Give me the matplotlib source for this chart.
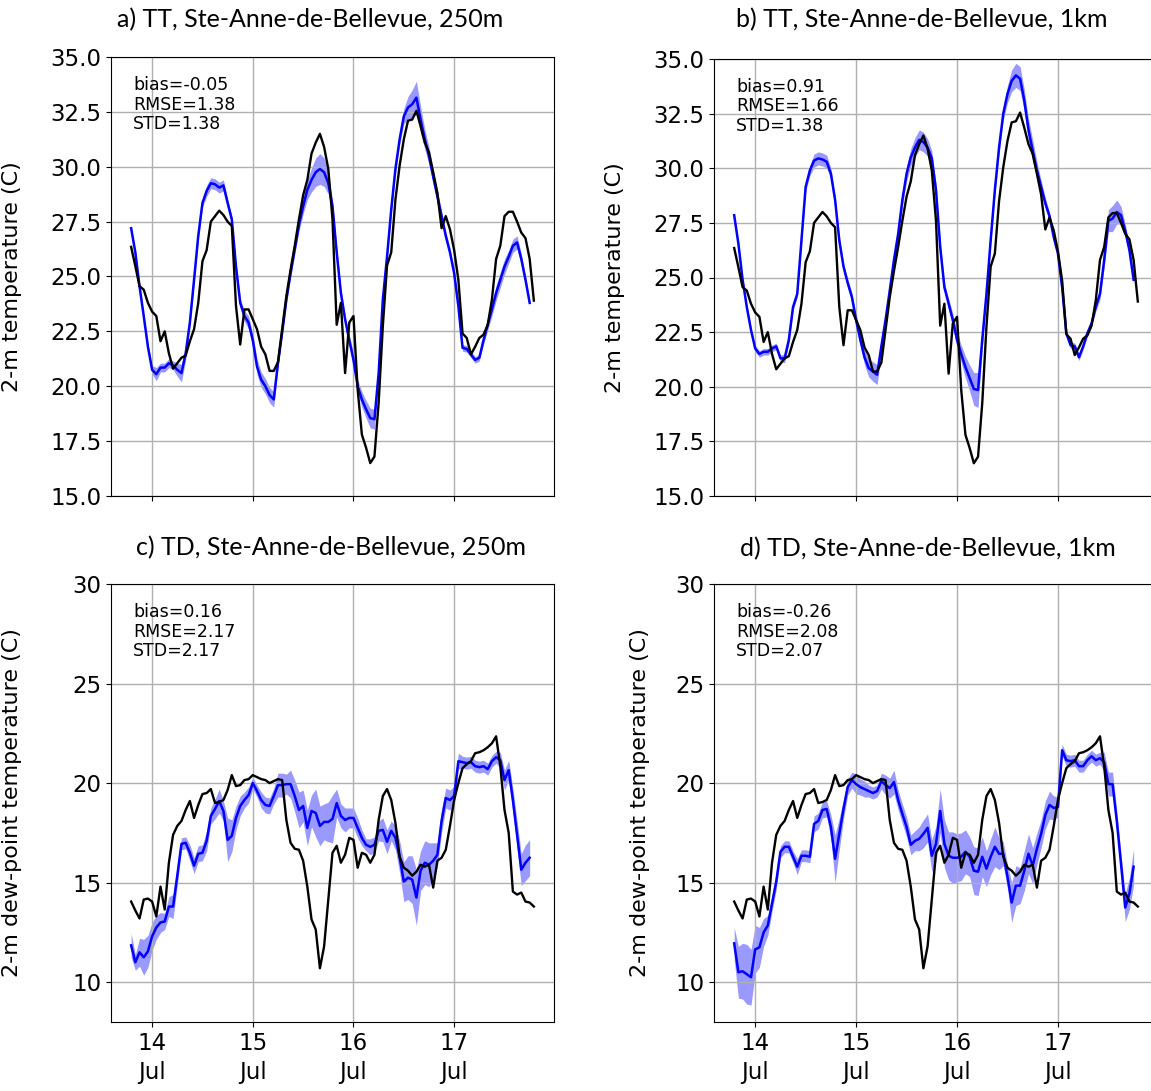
import numpy as np
import pandas as pd
import matplotlib
matplotlib.use("Agg")
import matplotlib.pyplot as plt
import matplotlib.dates as mdates

# hourly times, obs runs one hour longer than the model
obs_time = pd.date_range("2018-07-13 19:00", periods=97, freq="h")
mod_time = obs_time[:96]

# 2-m temperature, observed
tt_obs = [26.35, 25.47, 24.56, 24.4, 23.8, 23.4, 23.2, 22.05, 22.5, 21.5,
          20.8, 21.05, 21.3, 21.4, 22.05, 22.6, 23.8, 25.7, 26.2, 27.5,
          27.75, 28.0, 27.8, 27.5, 27.3, 23.65, 21.9, 23.5, 23.5, 23.05,
          22.6, 21.8, 21.45, 20.7, 20.7, 21.1, 22.6, 24.1, 25.3, 26.4,
          27.6, 28.7, 29.4, 30.6, 31.1, 31.5, 30.9, 29.9, 27.6, 22.8,
          23.8, 20.6, 22.9, 23.2, 19.85, 17.8, 17.2, 16.5, 16.8, 19.25,
          22.75, 25.5, 26.1, 28.5, 30.05, 31.25, 32.1, 32.15, 32.55, 31.85,
          31.1, 30.65, 29.75, 28.8, 27.2, 27.75, 27.15, 26.2, 24.85, 22.4,
          22.2, 21.45, 21.8, 22.2, 22.35, 22.8, 23.95, 25.8, 26.4, 27.75,
          27.95, 27.95, 27.5, 27.0, 26.75, 25.8, 23.9]

# 2-m temperature, ensemble mean and half spread, 250 m
tt_250 = [27.2, 26.1, 24.55, 23.2, 21.8, 20.75, 20.55, 20.85, 20.85, 21.05,
          20.95, 20.75, 20.6, 21.5, 22.9, 24.85, 26.85, 28.35, 28.9, 29.25,
          29.2, 29.05, 29.15, 28.35, 27.6, 25.45, 23.8, 23.2, 22.9, 22.1,
          20.9, 20.3, 20.0, 19.6, 19.4, 21.05, 22.45, 23.95, 25.15, 26.25,
          27.35, 28.2, 28.95, 29.4, 29.75, 29.9, 29.75, 29.25, 28.2, 26.1,
          24.25, 23.05, 22.1, 21.2, 20.0, 19.4, 18.95, 18.55, 18.5, 20.6,
          23.95, 25.9, 28.05, 29.9, 31.25, 32.3, 32.7, 32.85, 33.15, 32.15,
          31.25, 30.5, 29.55, 28.65, 27.75, 26.85, 26.1, 25.15, 23.65, 21.75,
          21.7, 21.45, 21.2, 21.3, 22.1, 22.8, 23.5, 24.25, 24.85, 25.45,
          25.9, 26.4, 26.55, 25.8, 24.85, 23.8]
tt_250_spr = [0.1, 0.1, 0.1, 0.1, 0.15, 0.2, 0.3, 0.2, 0.2, 0.2,
              0.2, 0.3, 0.4, 0.3, 0.15, 0.15, 0.15, 0.2, 0.25, 0.25,
              0.25, 0.25, 0.25, 0.2, 0.15, 0.15, 0.2, 0.25, 0.3, 0.3,
              0.35, 0.35, 0.35, 0.35, 0.35, 0.2, 0.15, 0.2, 0.2, 0.25,
              0.3, 0.35, 0.45, 0.55, 0.65, 0.7, 0.65, 0.5, 0.3, 0.2,
              0.2, 0.2, 0.25, 0.3, 0.3, 0.35, 0.4, 0.45, 0.45, 0.3,
              0.15, 0.15, 0.15, 0.2, 0.25, 0.35, 0.5, 0.65, 0.75, 0.6,
              0.45, 0.4, 0.3, 0.3, 0.25, 0.2, 0.2, 0.15, 0.15, 0.15,
              0.15, 0.15, 0.15, 0.15, 0.2, 0.25, 0.3, 0.35, 0.35, 0.35,
              0.3, 0.3, 0.3, 0.25, 0.2, 0.15]

# 2-m temperature, ensemble mean and half spread, 1 km
tt_1km = [27.85, 26.55, 24.9, 23.65, 22.6, 21.75, 21.5, 21.6, 21.6, 21.75,
          21.85, 21.3, 21.3, 22.15, 23.65, 24.25, 26.7, 29.15, 29.9, 30.35,
          30.45, 30.4, 30.3, 29.75, 28.55, 26.7, 25.5, 24.75, 24.1, 23.05,
          22.15, 21.35, 20.85, 20.7, 20.55, 21.85, 23.05, 24.4, 25.8, 27.0,
          28.55, 29.75, 30.5, 30.95, 31.3, 31.2, 30.95, 30.45, 29.0, 26.4,
          24.55, 23.8, 23.05, 22.15, 21.5, 20.9, 20.4, 19.9, 19.85, 22.15,
          24.25, 26.7, 29.0, 30.95, 32.5, 33.4, 34.0, 34.25, 34.1, 33.1,
          31.75, 30.8, 29.9, 29.15, 28.4, 27.8, 26.85, 26.1, 24.55, 22.45,
          21.9, 21.85, 21.35, 21.85, 22.45, 22.9, 23.65, 24.25, 25.8, 27.6,
          27.7, 28.0, 27.85, 27.15, 26.25, 24.9]
tt_1km_spr = [0.1, 0.1, 0.1, 0.1, 0.1, 0.15, 0.15, 0.15, 0.15, 0.15,
              0.15, 0.15, 0.2, 0.2, 0.15, 0.15, 0.15, 0.2, 0.25, 0.3,
              0.3, 0.3, 0.3, 0.25, 0.2, 0.15, 0.15, 0.2, 0.2, 0.25,
              0.3, 0.35, 0.4, 0.45, 0.45, 0.3, 0.2, 0.2, 0.2, 0.25,
              0.3, 0.35, 0.4, 0.45, 0.45, 0.45, 0.4, 0.35, 0.3, 0.2,
              0.2, 0.25, 0.3, 0.35, 0.4, 0.5, 0.6, 0.75, 0.8, 0.4,
              0.2, 0.2, 0.2, 0.25, 0.3, 0.4, 0.5, 0.55, 0.55, 0.5,
              0.5, 0.5, 0.4, 0.3, 0.25, 0.2, 0.2, 0.2, 0.15, 0.15,
              0.15, 0.15, 0.15, 0.15, 0.15, 0.15, 0.2, 0.25, 0.35, 0.5,
              0.6, 0.55, 0.4, 0.3, 0.25, 0.2]

# 2-m dew point, observed
td_obs = [14.05, 13.6, 13.2, 14.15, 14.2, 14.05, 13.3, 14.8, 13.65, 16.0,
          17.4, 17.85, 18.1, 18.65, 19.1, 18.25, 18.9, 19.45, 19.5, 19.7,
          19.0, 19.05, 19.15, 19.65, 20.4, 19.85, 19.9, 20.15, 20.2, 20.4,
          20.3, 20.2, 20.15, 20.0, 20.1, 20.2, 20.15, 18.15, 17.0, 16.7,
          16.65, 16.1, 14.8, 13.15, 12.65, 10.7, 11.8, 14.15, 16.5, 16.85,
          16.0, 16.4, 17.25, 17.15, 15.75, 16.5, 16.4, 16.0, 16.4, 18.15,
          19.35, 19.7, 19.15, 18.0, 16.3, 15.75, 15.6, 15.35, 15.55, 15.9,
          15.8, 15.9, 14.75, 16.1, 16.25, 16.65, 17.85, 19.15, 20.0, 20.75,
          20.95, 21.1, 21.5, 21.55, 21.65, 21.8, 22.0, 22.35, 20.85, 18.65,
          17.5, 14.55, 14.4, 14.5, 14.05, 14.0, 13.8]

# 2-m dew point, ensemble mean and half spread, 250 m
td_250 = [11.85, 11.0, 11.5, 11.25, 11.55, 12.3, 12.75, 13.0, 13.05, 13.8,
          13.8, 15.35, 16.95, 17.0, 16.5, 15.85, 16.45, 16.5, 17.1, 18.35,
          18.7, 19.1, 18.6, 17.15, 17.35, 18.25, 18.85, 19.15, 19.4, 20.0,
          19.6, 19.15, 18.9, 18.85, 19.35, 19.9, 19.9, 19.95, 19.95, 19.35,
          18.65, 18.85, 17.75, 18.6, 18.5, 17.85, 18.05, 18.05, 18.2, 19.0,
          18.35, 18.15, 18.25, 18.25, 17.75, 17.25, 16.9, 16.8, 16.9, 17.6,
          17.65, 17.05, 17.6, 17.25, 16.3, 15.05, 15.25, 15.15, 14.25, 15.6,
          16.0, 15.9, 16.1, 16.4, 18.1, 19.25, 19.15, 19.35, 21.1, 21.05,
          21.0, 21.05, 20.85, 20.8, 20.85, 20.7, 21.1, 21.3, 21.15, 20.15,
          20.65, 19.15, 17.4, 15.65, 16.0, 16.25]
td_250_spr = [0.6, 0.4, 0.7, 0.9, 0.8, 0.7, 0.6, 0.5, 0.4, 0.5,
              0.6, 0.5, 0.3, 0.3, 0.4, 0.4, 0.4, 0.4, 0.5, 0.4,
              0.5, 0.6, 0.5, 1.1, 0.8, 0.6, 0.5, 0.4, 0.4, 0.3,
              0.3, 0.4, 0.4, 0.4, 0.4, 0.6, 0.6, 0.5, 0.7, 0.8,
              0.9, 0.8, 0.9, 0.8, 1.2, 1.0, 0.9, 1.0, 1.2, 0.7,
              0.6, 0.6, 0.5, 0.5, 0.5, 0.4, 0.3, 0.4, 0.4, 0.5,
              0.6, 0.6, 0.5, 0.6, 0.8, 1.0, 1.1, 1.2, 1.4, 1.0,
              1.1, 1.1, 0.9, 0.6, 0.6, 0.5, 0.5, 0.5, 0.4, 0.3,
              0.3, 0.3, 0.3, 0.3, 0.3, 0.3, 0.3, 0.3, 0.4, 0.5,
              0.5, 0.6, 0.7, 0.8, 0.9, 0.9]

# 2-m dew point, ensemble mean and half spread, 1 km
td_1km = [11.95, 10.5, 10.55, 10.4, 10.25, 11.65, 11.75, 12.5, 12.85, 13.95,
          15.05, 16.55, 16.8, 16.8, 16.3, 15.8, 16.35, 16.35, 16.3, 17.95,
          18.1, 18.65, 18.7, 17.8, 16.2, 17.45, 18.7, 19.8, 20.15, 19.95,
          19.8, 19.7, 19.6, 19.5, 19.6, 20.1, 19.9, 19.75, 20.05, 19.15,
          18.45, 17.8, 16.9, 17.1, 17.2, 17.45, 17.75, 16.35, 16.95, 18.6,
          16.95, 16.35, 16.25, 16.25, 16.3, 16.55, 16.3, 15.6, 15.55, 16.3,
          15.7, 16.3, 16.8, 16.45, 16.45, 15.3, 14.0, 14.85, 14.85, 15.6,
          16.45, 15.85, 16.7, 17.45, 18.4, 18.9, 18.75, 18.8, 21.65, 21.15,
          21.1, 21.15, 20.85, 20.85, 21.15, 21.35, 21.15, 21.25, 21.05, 19.95,
          19.95, 18.1, 15.95, 13.75, 14.45, 15.8]
td_1km_spr = [0.8, 1.3, 1.4, 1.5, 1.4, 1.2, 1.0, 0.7, 0.5, 0.4,
              0.4, 0.3, 0.3, 0.3, 0.3, 0.4, 0.3, 0.3, 0.3, 0.4,
              0.4, 0.4, 0.4, 0.6, 1.2, 0.8, 0.5, 0.4, 0.4, 0.5,
              0.4, 0.4, 0.3, 0.3, 0.3, 0.4, 0.5, 0.5, 0.6, 0.5,
              0.5, 0.5, 0.5, 0.5, 0.6, 0.7, 0.7, 0.8, 0.9, 1.1,
              1.2, 1.2, 1.3, 1.2, 1.2, 1.1, 1.0, 1.2, 1.2, 1.0,
              0.9, 0.9, 1.0, 0.8, 0.6, 0.6, 1.0, 1.0, 0.9, 1.0,
              1.0, 0.9, 0.8, 0.7, 0.7, 0.7, 0.6, 0.5, 0.3, 0.3,
              0.3, 0.3, 0.3, 0.3, 0.3, 0.3, 0.3, 0.3, 0.5, 0.6,
              0.6, 0.5, 0.5, 0.7, 0.8, 0.9]

titles = ["a) TT, Ste-Anne-de-Bellevue, 250m", "b) TT, Ste-Anne-de-Bellevue, 1km",
          "c) TD, Ste-Anne-de-Bellevue, 250m", "d) TD, Ste-Anne-de-Bellevue, 1km"]
stats = ["bias=-0.05\nRMSE=1.38\nSTD=1.38", "bias=0.91\nRMSE=1.66\nSTD=1.38",
         "bias=0.16\nRMSE=2.17\nSTD=2.17", "bias=-0.26\nRMSE=2.08\nSTD=2.07"]

W, H = 1151, 1091
fig = plt.figure(figsize=(W / 100, H / 100), dpi=100)


def px_axes(left, top, width, height):
    return fig.add_axes([left / W, 1 - (top + height) / H, width / W, height / H])


panels = [
    # axes box (px), obs, mean, spread, ylim, yticks, ylabel, label x, title pos
    (px_axes(111, 57, 443, 439), tt_obs, tt_250, tt_250_spr, (15, 35),
     np.arange(15, 35.1, 2.5), "2-m temperature (C)", -0.202, (310, 20)),
    (px_axes(714, 59, 444, 437), tt_obs, tt_1km, tt_1km_spr, (15, 35),
     np.arange(15, 35.1, 2.5), "2-m temperature (C)", -0.20, (922, 20)),
    (px_axes(111, 584, 443, 438), td_obs, td_250, td_250_spr, (8, 30),
     [10, 15, 20, 25, 30], "2-m dew-point temperature (C)", -0.20, (331, 548)),
    (px_axes(714, 584, 444, 438), td_obs, td_1km, td_1km_spr, (8, 30),
     [10, 15, 20, 25, 30], "2-m dew-point temperature (C)", -0.144, (928, 549)),
]

for i, (ax, obs, mean, spr, ylim, yticks, ylabel, labx, tpos) in enumerate(panels):
    mean = np.array(mean)
    spr = np.array(spr)
    ax.fill_between(mod_time, mean - spr, mean + spr, color="blue", alpha=0.4, lw=0)
    ax.plot(mod_time, mean, color="blue", lw=1.8)
    ax.plot(obs_time, obs, color="black", lw=1.7)

    ax.set_ylim(*ylim)
    ax.set_yticks(yticks)
    if ylim[1] == 35:
        ax.yaxis.set_major_formatter(plt.FormatStrFormatter("%.1f"))
    ax.xaxis.set_major_locator(mdates.DayLocator())
    ax.xaxis.set_major_formatter(mdates.DateFormatter("%d\n%b"))
    ax.tick_params(labelsize=16.5)
    if i < 2:
        ax.tick_params(labelbottom=False)
    ax.grid(True, color="#b0b0b0", lw=1)
    ax.set_ylabel(ylabel, fontsize=16)
    ax.yaxis.set_label_coords(labx, 0.5)
    ax.text(0.05, 0.957, stats[i], transform=ax.transAxes, va="top", ha="left",
            fontsize=12.5, linespacing=1.12)
    fig.text(tpos[0] / W, 1 - tpos[1] / H, titles[i], ha="center", va="center",
             fontsize=18, family=["Lato", "DejaVu Sans"])

# spread the two-line date labels a little
fig.canvas.draw()
for ax in fig.axes[2:]:
    for lab in ax.get_xticklabels():
        lab.set_linespacing(1.35)

fig.savefig("out.png", dpi=100)
